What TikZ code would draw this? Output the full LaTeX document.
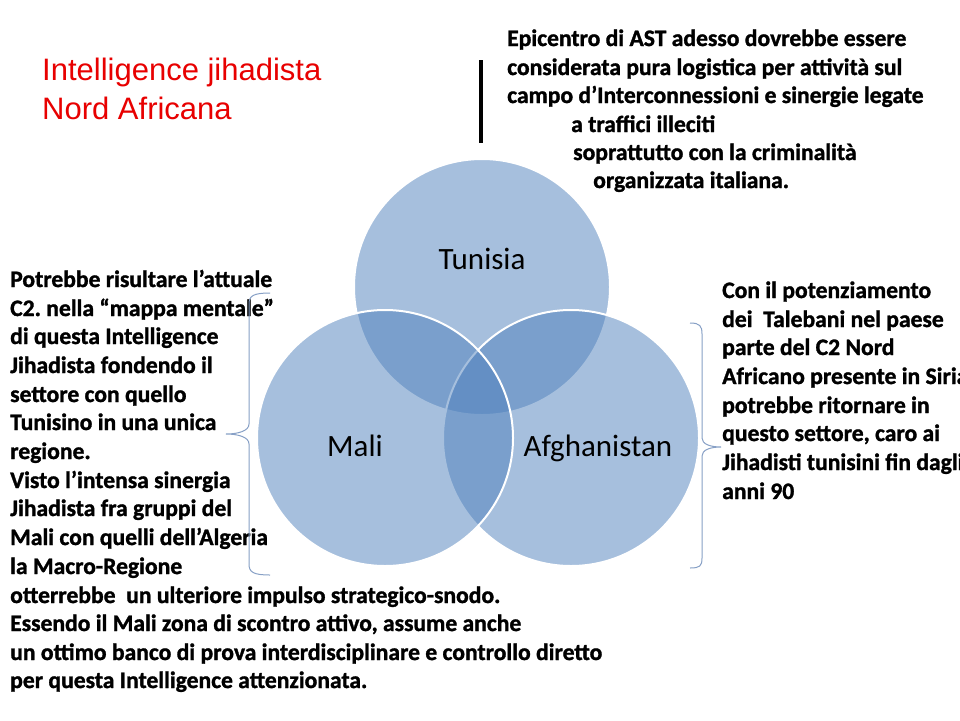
\documentclass[tikz,border=0pt]{standalone}
\usepackage{fontspec}
\setmainfont{Carlito}[BoldFeatures={FakeBold=1.3}]
\newfontfamily\arialf{Liberation Sans}
\definecolor{vennblue}{RGB}{79,129,189}
\definecolor{bracecol}{RGB}{135,160,198}
\definecolor{titlered}{RGB}{232,0,0}
\frenchspacing
\begin{document}
\begin{tikzpicture}[x=1pt,y=-1pt,
  txt/.style={anchor=base west, inner sep=0pt, font=\bfseries\fontsize{23.6}{28}\selectfont},
  ttl/.style={anchor=base west, inner sep=0pt, text=titlered, font=\arialf\fontsize{31}{36}\selectfont},
  lbl/.style={anchor=base, inner sep=0pt, font=\fontsize{31}{36}\selectfont},
  venn/.style={circle, minimum size=256pt, inner sep=0pt, fill=vennblue, fill opacity=0.5, draw=white, draw opacity=1, line width=2pt},
  bracec/.style={draw=bracecol, line width=1pt}]
\useasboundingbox (0,0) rectangle (960,720);
\clip (0,0) rectangle (960,720);
\fill[white] (0,0) rectangle (960,720);
% circles
\node[venn] (ctun) at (482,287) {};
\node[venn] (cafg) at (571,438) {};
\node[venn] (cmal) at (385,438) {};
% labels
\node[lbl] (ltun) at (482,269) {Tunisia};
\node[lbl] (lmal) at (355,456) {Mali};
\node[lbl] (lafg) at (598,456) {Afghanistan};
% title
\node[ttl] (t1) at (42,80) {Intelligence jihadista};
\node[ttl] (t2) at (42,119) {Nord Africana};
% vertical line
\draw[line width=3.5pt, black] (481,60) -- (481,143);
% top right text
\node[txt] (a1) at (507,46) {Epicentro di AST adesso dovrebbe essere};
\node[txt] (a2) at (507,75) {considerata pura logistica per attività sul};
\node[txt] (a3) at (507,103) {campo d’Interconnessioni e sinergie legate};
\node[txt] (a4) at (571,132) {a traffici illeciti};
\node[txt] (a5) at (573,160) {soprattutto con la criminalità};
\node[txt] (a6) at (593,188) {organizzata italiana.};
% left text
\node[txt] (b1) at (10,287) {Potrebbe risultare l’attuale};
\node[txt] (b2) at (10,316) {C2. nella “mappa mentale”};
\node[txt] (b3) at (10,344) {di questa Intelligence};
\node[txt] (b4) at (10,373) {Jihadista fondendo il};
\node[txt] (b5) at (10,402) {settore con quello};
\node[txt] (b6) at (10,430) {Tunisino in una unica};
\node[txt] (b7) at (10,459) {regione.};
\node[txt] (b8) at (10,488) {Visto l’intensa sinergia};
\node[txt] (b9) at (10,516) {Jihadista fra gruppi del};
\node[txt] (b10) at (10,545) {Mali con quelli dell’Algeria};
\node[txt] (b11) at (10,574) {la Macro-Regione};
\node[txt] (b12) at (10,603) {otterrebbe\ \ un ulteriore impulso strategico-snodo.};
\node[txt] (b13) at (10,631) {Essendo il Mali zona di scontro attivo, assume anche};
\node[txt] (b14) at (10,660) {un ottimo banco di prova interdisciplinare e controllo diretto};
\node[txt] (b15) at (10,688) {per questa Intelligence attenzionata.};
% right text
\node[txt] (c1) at (722,298) {Con il potenziamento};
\node[txt] (c2) at (722,327) {dei\ \ Talebani nel paese};
\node[txt] (c3) at (722,355) {parte del C2 Nord};
\node[txt] (c4) at (722,384) {Africano presente in Siria};
\node[txt] (c5) at (722,413) {potrebbe ritornare in};
\node[txt] (c6) at (722,441) {questo settore, caro ai};
\node[txt] (c7) at (722,470) {Jihadisti tunisini fin dagli};
\node[txt] (c8) at (722,499) {anni 90};
% braces
\draw[bracec] (270,293) .. controls (253,293) and (249,296) .. (249,304) -- (249,424) .. controls (249,431) and (238,434) .. (226,434) .. controls (238,434) and (249,437) .. (249,444) -- (249,564) .. controls (249,572) and (253,575) .. (270,575);
\draw[bracec] (690,323) .. controls (700,323) and (702,326) .. (702,334) -- (702,438) .. controls (702,444) and (710,447) .. (721,447) .. controls (710,447) and (702,450) .. (702,456) -- (702,558) .. controls (702,566) and (700,568) .. (690,568);
\end{tikzpicture}
\end{document}
